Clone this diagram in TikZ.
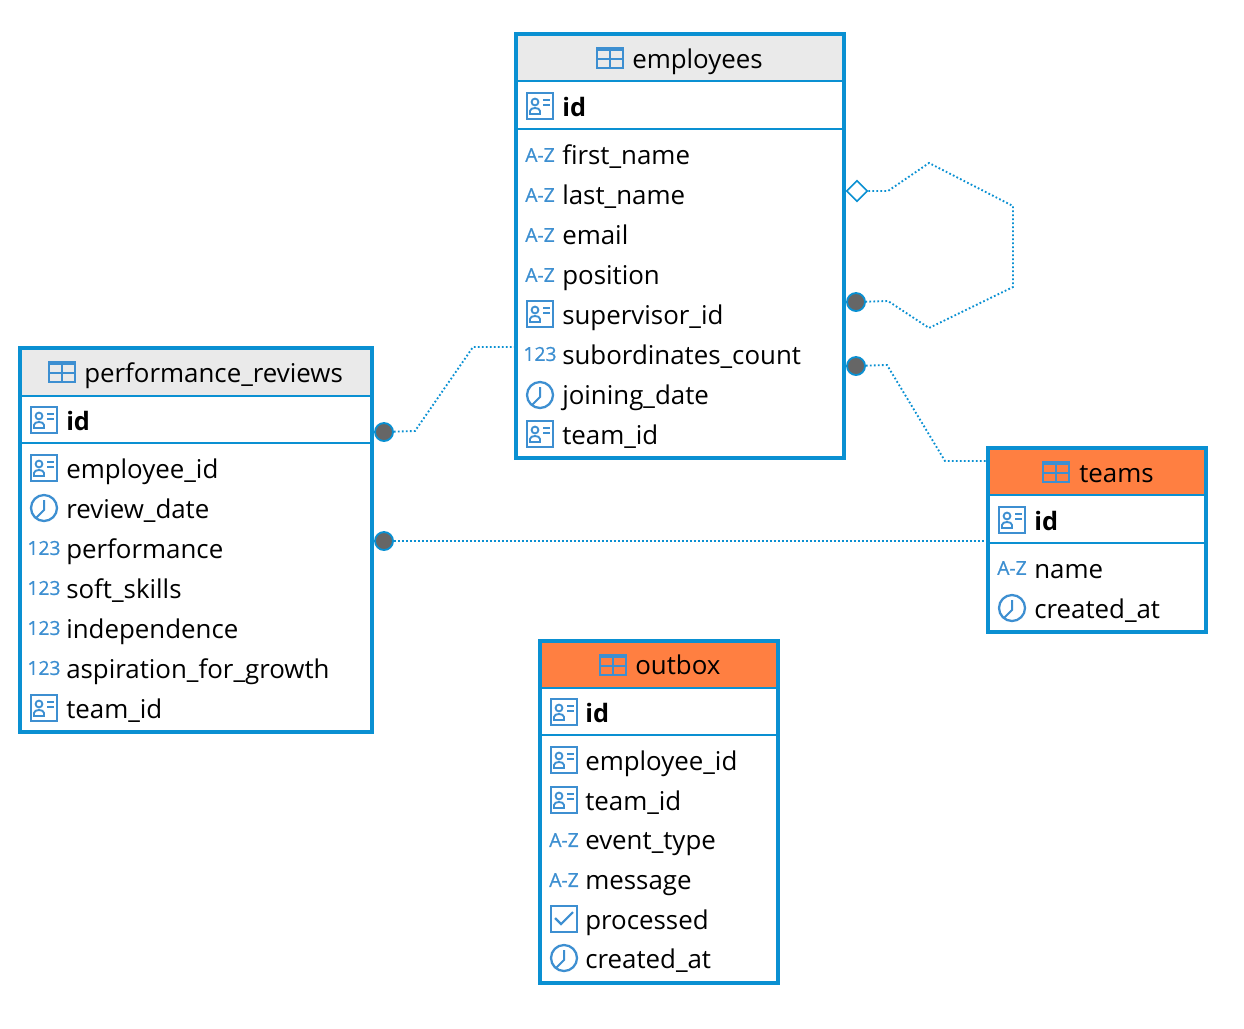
\documentclass[tikz,border=0pt]{standalone}
\usepackage{fontspec}
\usepackage{xcolor}
\usepackage{tikz}
\usetikzlibrary{shapes.geometric}
\setmainfont{Open Sans}
\newfontfamily\typefont[FakeBold=0.6]{Open Sans}
\definecolor{frameblue}{HTML}{0A90D2}
\definecolor{iconblue}{HTML}{3D8FD1}
\definecolor{headgray}{HTML}{EAEAEA}
\definecolor{headorange}{HTML}{FF7F41}
\definecolor{dotgray}{HTML}{666666}
\tikzset{
  tablebox/.style={draw=frameblue, line width=3pt, fill=white, inner sep=0pt, outer sep=0pt},
  tablehead/.style={draw=frameblue, line width=1.5pt, inner sep=0pt, outer sep=0pt},
  sepline/.style={draw=frameblue, line width=1.5pt},
  field/.style={anchor=base west, inner sep=0pt, font=\fontsize{19.4}{22}\selectfont},
  keyfield/.style={field, font=\fontsize{19}{22}\selectfont\bfseries},
  typetext/.style={inner sep=0pt, text=iconblue, font=\fontsize{14.5}{16}\typefont},
  rel/.style={draw=frameblue, line width=1.4pt, dash pattern=on 1.3pt off 1.7pt},
  enddot/.style={circle, draw=frameblue, line width=1.4pt, fill=dotgray, minimum size=13.5pt, inner sep=0pt},
  enddiamond/.style={diamond, draw=frameblue, line width=1.2pt, fill=white, minimum size=16pt, inner sep=0pt},
  pics/tableicon/.style={code={
    \draw[iconblue, line width=1.7pt] (-13,-10) rectangle (13,10);
    \fill[iconblue] (-13,-10) rectangle (13,-7);
    \draw[iconblue, line width=1.7pt] (-13,1) -- (13,1) (0,-7) -- (0,10);
  }},
  pics/keyicon/.style={code={
    \draw[iconblue, line width=1.7pt] (-13,-13) rectangle (13,13);
    \draw[iconblue, line width=1.4pt] (-5,-4) circle (3.4);
    \draw[iconblue, line width=1.4pt] (-10,8) -- (-10,5) .. controls (-10,1) and (0,1) .. (0,5) -- (0,8) -- cycle;
    \draw[iconblue, line width=1.4pt] (3,-6) -- (10,-6) (3,-1) -- (10,-1);
  }},
  pics/clockicon/.style={code={
    \draw[iconblue, line width=1.7pt] (0,0) circle (13);
    \draw[iconblue, line width=1.5pt] (0,-8) -- (0,2) -- (-8,10);
  }},
  pics/checkicon/.style={code={
    \draw[iconblue, line width=1.7pt] (-13,-13) rectangle (13,13);
    \draw[iconblue, line width=1.6pt] (-9,-1) -- (-3,5) -- (9,-7);
  }},
}
\begin{document}
\begin{tikzpicture}[x=0.75pt, y=-0.75pt]
\useasboundingbox (0,0) rectangle (1244,1028);

% employees
\node[tablebox, minimum width=246pt, minimum height=318pt] (emp) at (680,246) {};
\node[tablehead, fill=headgray, minimum width=246pt, minimum height=35.25pt] (emp_head) at (680,57.5) {};
\draw[tablebox, fill=none] (emp.north west) rectangle (emp.south east);
\draw[sepline] (emp.west |- 0,129) -- (emp.east |- 0,129);
\pic at (610,58) {tableicon};
\node[field] (emp_title) at (632,68) {employees};
\pic at (540,106) {keyicon};
\node[keyfield] (emp_id) at (562,116) {id};
\node[typetext] (emp_t1) at (540,155) {A-Z};
\node[field] (emp_first) at (562,164) {first\_name};
\node[typetext] (emp_t2) at (540,195) {A-Z};
\node[field] (emp_last) at (562,204) {last\_name};
\node[typetext] (emp_t3) at (540,235) {A-Z};
\node[field] (emp_email) at (562,244) {email};
\node[typetext] (emp_t4) at (540,275) {A-Z};
\node[field] (emp_pos) at (562,284) {position};
\pic at (540,314) {keyicon};
\node[field] (emp_sup) at (562,324) {supervisor\_id};
\node[typetext] (emp_t5) at (540,354) {123};
\node[field] (emp_sub) at (562,364) {subordinates\_count};
\pic at (540,395) {clockicon};
\node[field] (emp_join) at (562,404) {joining\_date};
\pic at (540,434) {keyicon};
\node[field] (emp_team) at (562,444) {team\_id};

% performance_reviews
\node[tablebox, minimum width=264pt, minimum height=288pt] (perf) at (196,540) {};
\node[tablehead, fill=headgray, minimum width=264pt, minimum height=35.25pt] (perf_head) at (196,372) {};
\draw[tablebox, fill=none] (perf.north west) rectangle (perf.south east);
\draw[sepline] (perf.west |- 0,443) -- (perf.east |- 0,443);
\pic at (62,372) {tableicon};
\node[field] (perf_title) at (84,382) {performance\_reviews};
\pic at (44,420) {keyicon};
\node[keyfield] (perf_id) at (66,430) {id};
\pic at (44,468) {keyicon};
\node[field] (perf_emp) at (66,478) {employee\_id};
\pic at (44,508) {clockicon};
\node[field] (perf_date) at (66,518) {review\_date};
\node[typetext] (perf_t1) at (44,548) {123};
\node[field] (perf_perf) at (66,558) {performance};
\node[typetext] (perf_t2) at (44,588) {123};
\node[field] (perf_soft) at (66,598) {soft\_skills};
\node[typetext] (perf_t3) at (44,628) {123};
\node[field] (perf_ind) at (66,638) {independence};
\node[typetext] (perf_t4) at (44,668) {123};
\node[field] (perf_asp) at (66,678) {aspiration\_for\_growth};
\pic at (44,708) {keyicon};
\node[field] (perf_team) at (66,718) {team\_id};

% teams
\node[tablebox, minimum width=163.5pt, minimum height=138pt] (teams) at (1097,540) {};
\node[tablehead, fill=headorange, minimum width=163.5pt, minimum height=35.25pt] (teams_head) at (1097,471.5) {};
\draw[tablebox, fill=none] (teams.north west) rectangle (teams.south east);
\draw[sepline] (teams.west |- 0,543) -- (teams.east |- 0,543);
\pic at (1056,472) {tableicon};
\node[field] (teams_title) at (1079,482) {teams};
\pic at (1012,520) {keyicon};
\node[keyfield] (teams_id) at (1034,530) {id};
\node[typetext] (teams_t1) at (1012,568) {A-Z};
\node[field] (teams_name) at (1034,578) {name};
\pic at (1012,608) {clockicon};
\node[field] (teams_created) at (1034,618) {created\_at};

% outbox
\node[tablebox, minimum width=178.5pt, minimum height=256.5pt] (outbox) at (659,811.5) {};
\node[tablehead, fill=headorange, minimum width=178.5pt, minimum height=35.25pt] (outbox_head) at (659,664) {};
\draw[tablebox, fill=none] (outbox.north west) rectangle (outbox.south east);
\draw[sepline] (outbox.west |- 0,735) -- (outbox.east |- 0,735);
\pic at (613,665) {tableicon};
\node[field] (outbox_title) at (635,674) {outbox};
\pic at (564,712) {keyicon};
\node[keyfield] (outbox_id) at (585,722) {id};
\pic at (564,760) {keyicon};
\node[field] (outbox_emp) at (585,770) {employee\_id};
\pic at (564,800) {keyicon};
\node[field] (outbox_team) at (585,810) {team\_id};
\node[typetext] (outbox_t1) at (564,840) {A-Z};
\node[field] (outbox_event) at (585,849) {event\_type};
\node[typetext] (outbox_t2) at (564,880) {A-Z};
\node[field] (outbox_msg) at (585,889) {message};
\pic at (564,919) {checkicon};
\node[field] (outbox_proc) at (585,929) {processed};
\pic at (564,958) {clockicon};
\node[field] (outbox_created) at (585,968) {created\_at};

% connector ends
\node[enddiamond] (self_from) at (857,191) {};
\node[enddot] (self_to) at (856,302) {};
\node[enddot] (team_from) at (856,366) {};
\node[enddot] (perf_from) at (384,432) {};
\node[enddot] (perfteam_from) at (384,541) {};
\coordinate (team_to) at (986,461);
\coordinate (perf_to) at (514,347);
\coordinate (perfteam_to) at (986,541);

\draw[rel] (self_from) -- (888,191) -- (929,163) -- (1013,206) -- (1013,287) -- (929,328) -- (888,301) -- (self_to);
\draw[rel] (team_from) -- (887,365) -- (945,461) -- (team_to);
\draw[rel] (perf_from) -- (415,431) -- (473,347) -- (perf_to);
\draw[rel] (perfteam_from) -- (perfteam_to);
\end{tikzpicture}
\end{document}
